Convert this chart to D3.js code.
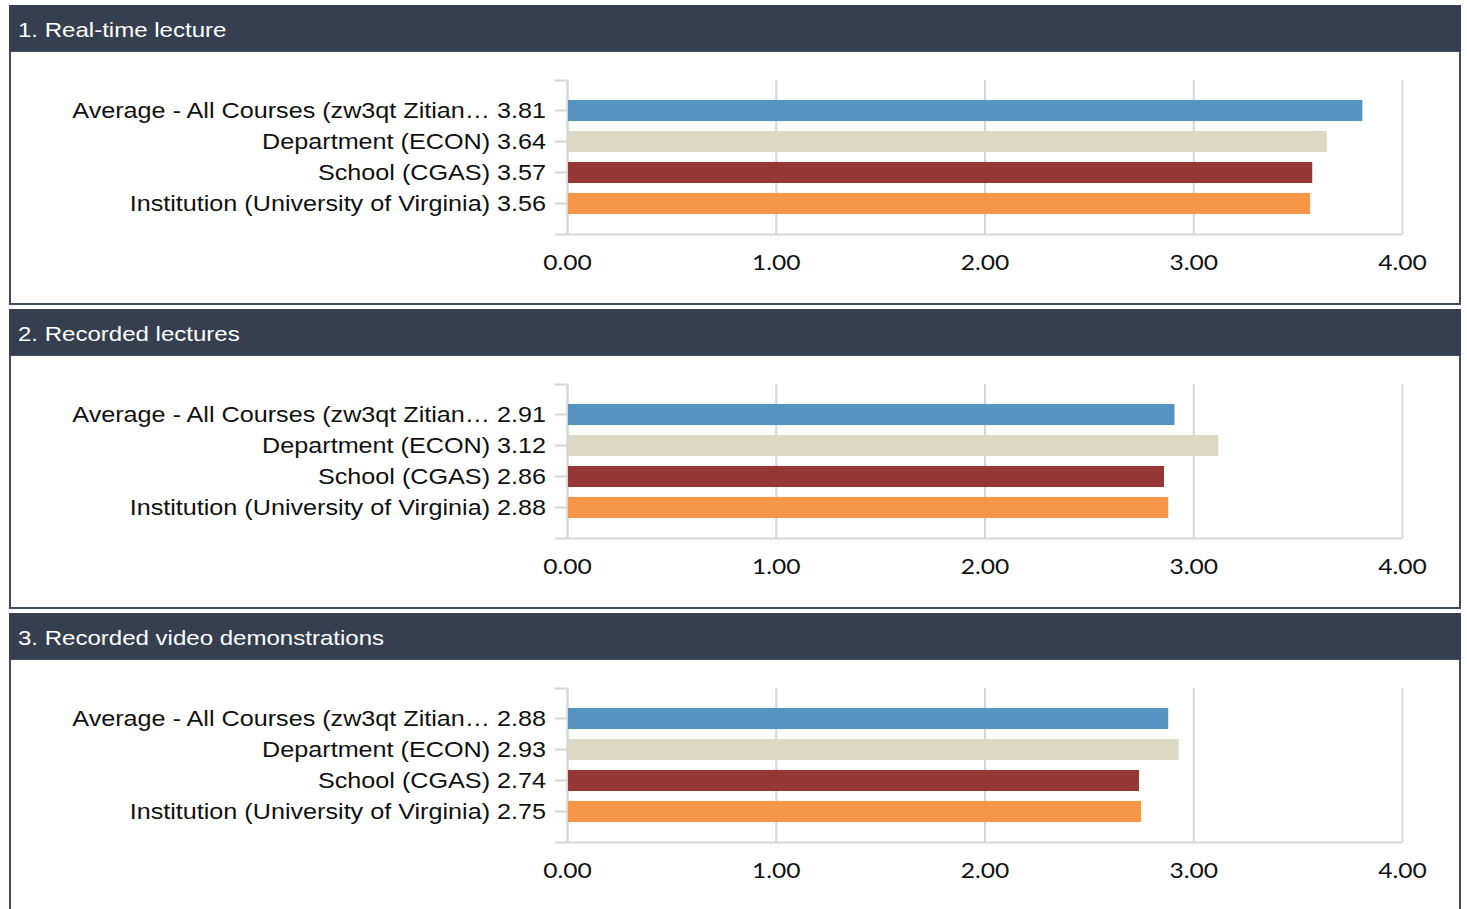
<!DOCTYPE html>
<html>
<head>
<meta charset="utf-8">
<script src="https://cdn.jsdelivr.net/npm/d3@7"></script>
<style>
  html, body { margin: 0; padding: 0; background: #ffffff; }
  svg { display: block; }
</style>
</head>
<body>
<svg id="chart" width="1467" height="909"></svg>
<script>
// ---- Data ----
const panelTitles = ["1. Real-time lecture", "2. Recorded lectures", "3. Recorded video demonstrations"];
const categories = [
  "Average - All Courses (zw3qt Zitian\u2026",
  "Department (ECON)",
  "School (CGAS)",
  "Institution (University of Virginia)"
];
const realTimeValues = [3.81, 3.64, 3.57, 3.56];
const recordedLectureValues = [2.91, 3.12, 2.86, 2.88];
const videoDemoValues = [2.88, 2.93, 2.74, 2.75];
const seriesValues = [realTimeValues, recordedLectureValues, videoDemoValues];
const xTicks = [0, 1, 2, 3, 4];
const xDomain = [0, 4];
const barColors = ["#5793c1", "#ddd9c5", "#953735", "#f79646"];

// ---- Layout ----
const svg = d3.select("#chart");
const panelX = 9, panelW = 1452, panelPitch = 304, panelTop = 5, headerH = 46;
const x = d3.scaleLinear().domain(xDomain).range([567, 1402]);
const gridColor = "#d6d6d6";
const stretch = 1.145;

panelTitles.forEach((title, i) => {
  const y0 = panelTop + i * panelPitch;
  const g = svg.append("g");

  // body
  g.append("rect")
    .attr("x", panelX + 1).attr("y", y0 + headerH)
    .attr("width", panelW - 2).attr("height", 253)
    .attr("fill", "#ffffff").attr("stroke", "#414d5e").attr("stroke-width", 2);
  // header
  g.append("rect")
    .attr("x", panelX).attr("y", y0)
    .attr("width", panelW).attr("height", headerH)
    .attr("fill", "#353f4f");
  g.append("text")
    .attr("transform", `translate(18,${y0 + 25}) scale(${stretch},1)`)
    .attr("dominant-baseline", "central")
    .attr("font-family", "'Liberation Sans', Arial, sans-serif")
    .attr("font-size", 21)
    .attr("fill", "#ffffff")
    .text(title);

  const top = y0 + 75, bottom = y0 + 229;
  const vals = seriesValues[i];
  const y = d3.scaleBand().domain(categories)
    .range([top, bottom]).paddingInner(0.32).paddingOuter(0.645);

  // x axis with gridlines
  const xAxis = d3.axisBottom(x).tickValues(xTicks)
    .tickSize(-(bottom - top)).tickSizeOuter(0).tickPadding(20)
    .tickFormat(d3.format(".2f"));
  const gx = g.append("g").attr("transform", `translate(0,${bottom})`).call(xAxis);
  gx.selectAll("line").attr("stroke", gridColor).attr("stroke-width", 2);
  gx.select(".domain").attr("stroke", gridColor).attr("stroke-width", 2);
  gx.selectAll("text")
    .attr("transform", "scale(1.12,1)")
    .attr("font-family", "Lato, 'Open Sans', sans-serif")
    .attr("font-size", 22).attr("fill", "#111");

  // y axis
  const labelOf = d3.zip(categories, vals);
  const yAxis = d3.axisLeft(y).tickSize(12).tickSizeOuter(12).tickPadding(9)
    .tickFormat((c) => c + " " + vals[categories.indexOf(c)].toFixed(2));
  const gy = g.append("g").attr("transform", `translate(${x(0)},0)`).call(yAxis);
  gy.selectAll("line").attr("stroke", gridColor).attr("stroke-width", 2);
  gy.select(".domain").attr("stroke", gridColor).attr("stroke-width", 2);
  gy.selectAll("text")
    .attr("x", 0)
    .attr("transform", `translate(-21,0) scale(${stretch},1)`)
    .attr("font-family", "'Liberation Sans', Arial, sans-serif")
    .attr("font-size", 22).attr("fill", "#111");

  // bars
  g.append("g").selectAll("rect")
    .data(labelOf)
    .join("rect")
    .attr("x", x(0) + 1)
    .attr("y", d => y(d[0]))
    .attr("width", d => x(d[1]) - x(0) - 1)
    .attr("height", y.bandwidth())
    .attr("fill", (d, j) => barColors[j]);
});
</script>
</body>
</html>
